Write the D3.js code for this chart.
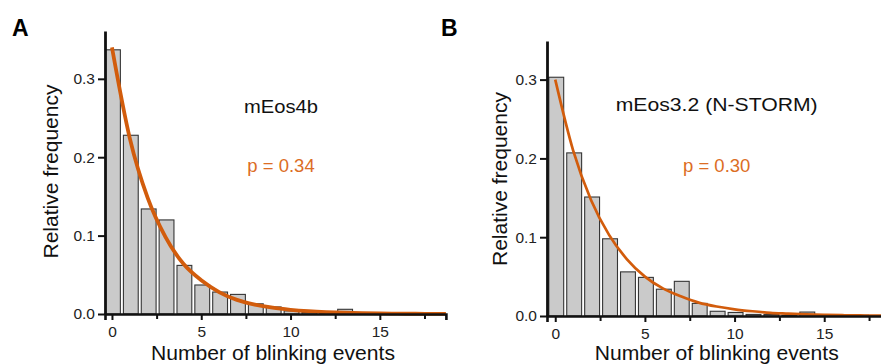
<!DOCTYPE html>
<html>
<head>
<meta charset="utf-8">
<script src="https://cdn.jsdelivr.net/npm/d3@7"></script>
<style>
  html, body { margin: 0; padding: 0; background: #fff; }
  svg { display: block; font-family: "Liberation Sans", Arial, Helvetica, sans-serif; }
</style>
</head>
<body>
<svg id="chart" width="881" height="364"></svg>
<script>
// ---------- data ----------
const eventsA = [0,1,2,3,4,5,6,7,8,9,10,11,12,13,14,15,16,17,18];
const freqA   = [0.337,0.228,0.134,0.120,0.062,0.037,0.028,0.025,0.013,0.009,0.004,0.002,0.001,0.006,0.001,0.001,0.0005,0.0005,0.0005];
const fitXA   = [0,1,2,3,4,5,6,7,8,9,10,11,12,13,14,15,16,17,18,18.7];
const fitYA   = [0.340,0.224,0.148,0.098,0.064,0.043,0.028,0.018,0.012,0.008,0.0054,0.0036,0.0024,0.0016,0.0010,0.0007,0.0004,0.0003,0.0002,0.0002];

const eventsB = [0,1,2,3,4,5,6,7,8,9,10,11,12,13,14,15,16,17];
const freqB   = [0.303,0.207,0.151,0.098,0.056,0.049,0.034,0.044,0.016,0.006,0.0045,0.002,0.002,0.001,0.005,0.001,0.001,0.001];
const fitXB   = [0,1,2,3,4,5,6,7,8,9,10,11,12,13,14,15,16,17,18,18.3];
const fitYB   = [0.300,0.210,0.147,0.103,0.072,0.050,0.035,0.025,0.017,0.012,0.0085,0.006,0.004,0.003,0.002,0.0014,0.001,0.0007,0.0005,0.0005];

const yTicks      = [0, 0.1, 0.2, 0.3];
const xMajorTicks = [0, 5, 10, 15];
const xMinorTicks = [2.5, 7.5, 12.5, 17.5];

const panelLetters = ["A", "B"];
const proteinNames = ["mEos4b", "mEos3.2 (N-STORM)"];
const pLabels      = ["p = 0.34", "p = 0.30"];
const xAxisTitle   = "Number of blinking events";
const yAxisTitle   = "Relative frequency";

// ---------- styles ----------
const FIT_COLOR  = "#d25c0c";
const TEXT_ORANGE = "#dc6d24";
const BAR_FILL   = "#cacaca";
const BAR_STROKE = "#353535";

const svg = d3.select("#chart");

function drawPanel(cfg) {
  const g = svg.append("g");
  const x = d3.scaleLinear().domain(cfg.xDomain).range(cfg.xRange);
  const y = d3.scaleLinear().domain(cfg.yDomain).range(cfg.yRange);
  const barW = (x(1) - x(0)) * 0.83;

  // bars
  g.append("g").selectAll("rect")
    .data(cfg.events.map((e, i) => ({e, v: cfg.freq[i]})))
    .join("rect")
    .attr("x", d => x(d.e) - barW / 2 + 1)
    .attr("y", d => y(d.v))
    .attr("width", barW)
    .attr("height", d => y(0) - y(d.v))
    .attr("fill", BAR_FILL)
    .attr("stroke", BAR_STROKE)
    .attr("stroke-width", 1.1);

  // fit curve
  const line = d3.line()
    .x((d, i) => x(cfg.fitX[i]))
    .y(d => y(d))
    .curve(d3.curveMonotoneX);
  g.append("path")
    .datum(cfg.fitY)
    .attr("d", line)
    .attr("fill", "none")
    .attr("stroke", FIT_COLOR)
    .attr("stroke-width", cfg.fitWidth)
    .attr("stroke-linecap", "butt");

  // x axis
  const xAxisG = g.append("g").attr("transform", `translate(0,${y(0)})`);
  xAxisG.call(d3.axisBottom(x).tickValues(xMajorTicks).tickSize(6).tickPadding(6).tickFormat(d3.format("d")));
  xAxisG.append("g").call(d3.axisBottom(x).tickValues(xMinorTicks).tickSize(5).tickFormat(""))
    .select(".domain").remove();
  xAxisG.selectAll(".domain").attr("stroke", "#111").attr("stroke-width", 2.6);
  xAxisG.selectAll(".tick line").attr("stroke", "#111").attr("stroke-width", 2);
  xAxisG.selectAll(".tick text").attr("font-size", 15.5).attr("fill", "#222")
    .attr("font-family", '"Liberation Sans", Arial, sans-serif');

  // y axis
  const yAxisG = g.append("g").attr("transform", `translate(${cfg.xRange[0]},0)`);
  yAxisG.call(d3.axisLeft(y).tickValues(yTicks).tickSize(7).tickSizeOuter(0).tickPadding(3).tickFormat(d3.format(".1f")));
  yAxisG.select(".domain").attr("stroke", "#111").attr("stroke-width", 2.8);
  yAxisG.selectAll(".tick line").attr("stroke", "#111").attr("stroke-width", 2);
  yAxisG.selectAll(".tick text").attr("font-size", 15.5).attr("fill", "#222")
    .attr("font-family", '"Liberation Sans", Arial, sans-serif');

  // axis titles
  g.append("text")
    .attr("x", cfg.xTitlePos[0]).attr("y", cfg.xTitlePos[1])
    .attr("text-anchor", "middle").attr("font-size", 20).attr("fill", "#111")
    .attr("textLength", 244).attr("lengthAdjust", "spacingAndGlyphs")
    .text(xAxisTitle);
  g.append("text")
    .attr("transform", `translate(${cfg.yTitlePos[0]},${cfg.yTitlePos[1]}) rotate(-90)`)
    .attr("text-anchor", "middle").attr("font-size", 20).attr("fill", "#111")
    .attr("textLength", 174).attr("lengthAdjust", "spacingAndGlyphs")
    .text(yAxisTitle);

  // annotations
  g.append("text")
    .attr("x", cfg.namePos[0]).attr("y", cfg.namePos[1])
    .attr("text-anchor", "middle").attr("font-size", 19).attr("fill", "#111")
    .attr("textLength", cfg.nameLen).attr("lengthAdjust", "spacingAndGlyphs")
    .text(cfg.name);
  g.append("text")
    .attr("x", cfg.pPos[0]).attr("y", cfg.pPos[1])
    .attr("text-anchor", "middle").attr("font-size", 18.5).attr("fill", TEXT_ORANGE)
    .text(cfg.pLabel);

  // panel letter
  g.append("text")
    .attr("x", cfg.letterPos[0]).attr("y", cfg.letterPos[1])
    .attr("font-size", 23).attr("font-weight", "bold").attr("fill", "#000")
    .text(cfg.letter);
}

drawPanel({
  events: eventsA, freq: freqA, fitX: fitXA, fitY: fitYA,
  xDomain: [-0.39, 18.7], xRange: [105, 445.9],
  yDomain: [0, 0.361], yRange: [314, 31],
  fitWidth: 3.8,
  xTitlePos: [273, 360], yTitlePos: [58, 171.5],
  name: proteinNames[0], nameLen: 74, namePos: [281, 113],
  pLabel: pLabels[0], pPos: [281, 172],
  letter: panelLetters[0], letterPos: [12, 36]
});

drawPanel({
  events: eventsB, freq: freqB, fitX: fitXB, fitY: fitYB,
  xDomain: [-0.46, 18.3], xRange: [547, 883.4],
  yDomain: [0, 0.349], yRange: [316, 41],
  fitWidth: 2.7,
  xTitlePos: [716.7, 360], yTitlePos: [506.5, 179],
  name: proteinNames[1], nameLen: 202, namePos: [716.7, 111],
  pLabel: pLabels[1], pPos: [716.7, 172],
  letter: panelLetters[1], letterPos: [441, 36]
});
</script>
</body>
</html>
